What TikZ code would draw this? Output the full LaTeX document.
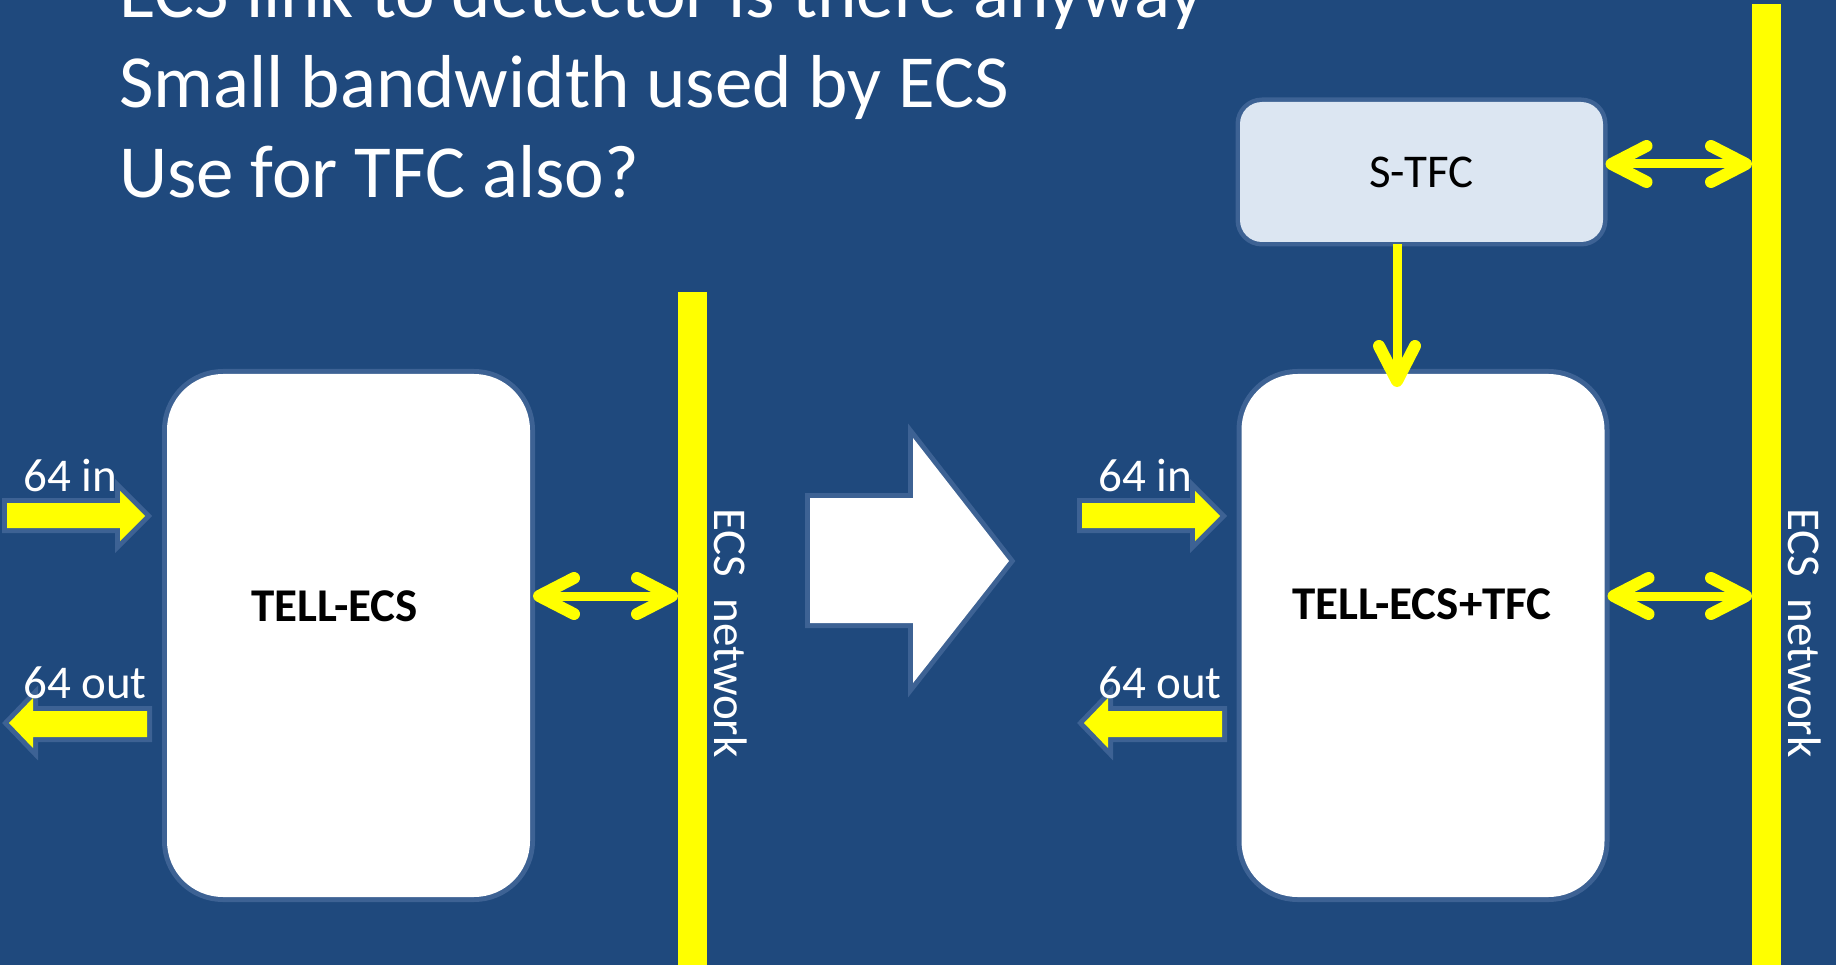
\documentclass[tikz,border=0pt]{standalone}
\usepackage{fontspec}
\setmainfont{Carlito}
\usetikzlibrary{arrows.meta,calc}
\definecolor{bg}{RGB}{31,73,125}
\definecolor{bord}{RGB}{61,98,148}
\definecolor{stfcfill}{RGB}{220,230,242}
\definecolor{ylw}{RGB}{255,255,0}
\begin{document}
\begin{tikzpicture}[x=1pt,y=-1pt,
  box/.style={fill=white, preaction={draw=bord,line width=10pt}, rounded corners=56pt,
    minimum width=363pt, minimum height=523pt, inner sep=0pt, outer sep=3pt},
  stfcbox/.style={fill=stfcfill, preaction={draw=bord,line width=9pt}, rounded corners=22pt,
    minimum width=363pt, minimum height=140pt, inner sep=0pt, outer sep=2.5pt,
    font=\fontsize{47}{56}\selectfont, text=black},
  bar/.style={fill=ylw, draw=none, inner sep=0pt, outer sep=0pt, minimum width=29pt, anchor=north west},
  barb/.tip={Straight Barb[round,length=35pt,width=36pt,line width=3pt 1]},
  link/.style={draw=ylw, line width=9pt, barb-barb},
  dn/.style={draw=ylw, line width=9pt, -barb},
  blk/.style={fill=ylw, preaction={draw=bord, line width=10pt}},
  bigarrow/.style={fill=white, preaction={draw=bord, line width=10pt}},
  lbl/.style={text=white, font=\fontsize{47}{56}\selectfont, inner sep=0pt},
  boxlbl/.style={text=black, font=\fontsize{47}{56}\selectfont\bfseries, inner sep=0pt},
  titletext/.style={text=white, font=\fontsize{75}{90}\selectfont, inner sep=0pt, anchor=base west}
]
\useasboundingbox (0,0) rectangle (1836,965);
\clip (0,0) rectangle (1836,965);
\fill[bg] (0,0) rectangle (1836,965);

% title
\node[titletext] (t1) at (119,18) {ECS link to detector is there anyway};
\node[titletext] (t2) at (119,108) {Small bandwidth used by ECS};
\node[titletext] (t3) at (119,198) {Use for TFC also?};

% helper coordinates
\coordinate (y596) at (0,596);
\coordinate (y164) at (0,164);

% bars
\node[bar, minimum height=673pt] (bar1) at (678,292) {};
\node[bar, minimum height=961pt] (bar2) at (1752,4) {};

% boxes
\node[box] (box1) at (348.5,635.5) {};
\node[box] (box2) at (1423,635.5) {};
\node[stfcbox] (stfc) at (1421.5,172) {S-TFC};
\node[boxlbl, anchor=base] (l1) at (334.5,621) {TELL-ECS};
\node[boxlbl, anchor=base] (l2) at (1422,619) {TELL-ECS+TFC};

% connectors
\draw[link] (box1.east |- y596) -- (bar1.west |- y596);
\draw[link] (box2.east |- y596) -- (bar2.west |- y596);
\draw[link] (stfc.east |- y164) -- (bar2.west |- y164);
\draw[dn] ([xshift=-24.5pt]stfc.south) -- ([xshift=-26pt,yshift=-16pt]box2.north);

% block arrows
\path[blk] (7,503) -- (120,503) -- (120,491) -- (145,516) -- (120,541) -- (120,528) -- (7,528) -- cycle;
\path[blk] (147,711) -- (33,711) -- (33,698) -- (9,723) -- (33,748) -- (33,737) -- (147,737) -- cycle;
\path[blk] (1082,503) -- (1195,503) -- (1195,491) -- (1220,516) -- (1195,541) -- (1195,528) -- (1082,528) -- cycle;
\path[blk] (1222,711) -- (1108,711) -- (1108,698) -- (1084,723) -- (1108,748) -- (1108,737) -- (1222,737) -- cycle;

% big arrow
\path[bigarrow] (810,498) -- (913,498) -- (913,438) -- (1009,561) -- (913,683) -- (913,623) -- (810,623) -- cycle;

% labels
\node[lbl, anchor=base west] (in1) at (23,491) {64 in};
\node[lbl, anchor=base west] (out1) at (23,698) {64 out};
\node[lbl, anchor=base west] (in2) at (1098,491) {64 in};
\node[lbl, anchor=base west] (out2) at (1098,698) {64 out};
\node[lbl, rotate=-90, anchor=base west] (net1) at (714,508) {ECS\ \ network};
\node[lbl, rotate=-90, anchor=base west] (net2) at (1788,508) {ECS\ \ network};
\end{tikzpicture}
\end{document}
